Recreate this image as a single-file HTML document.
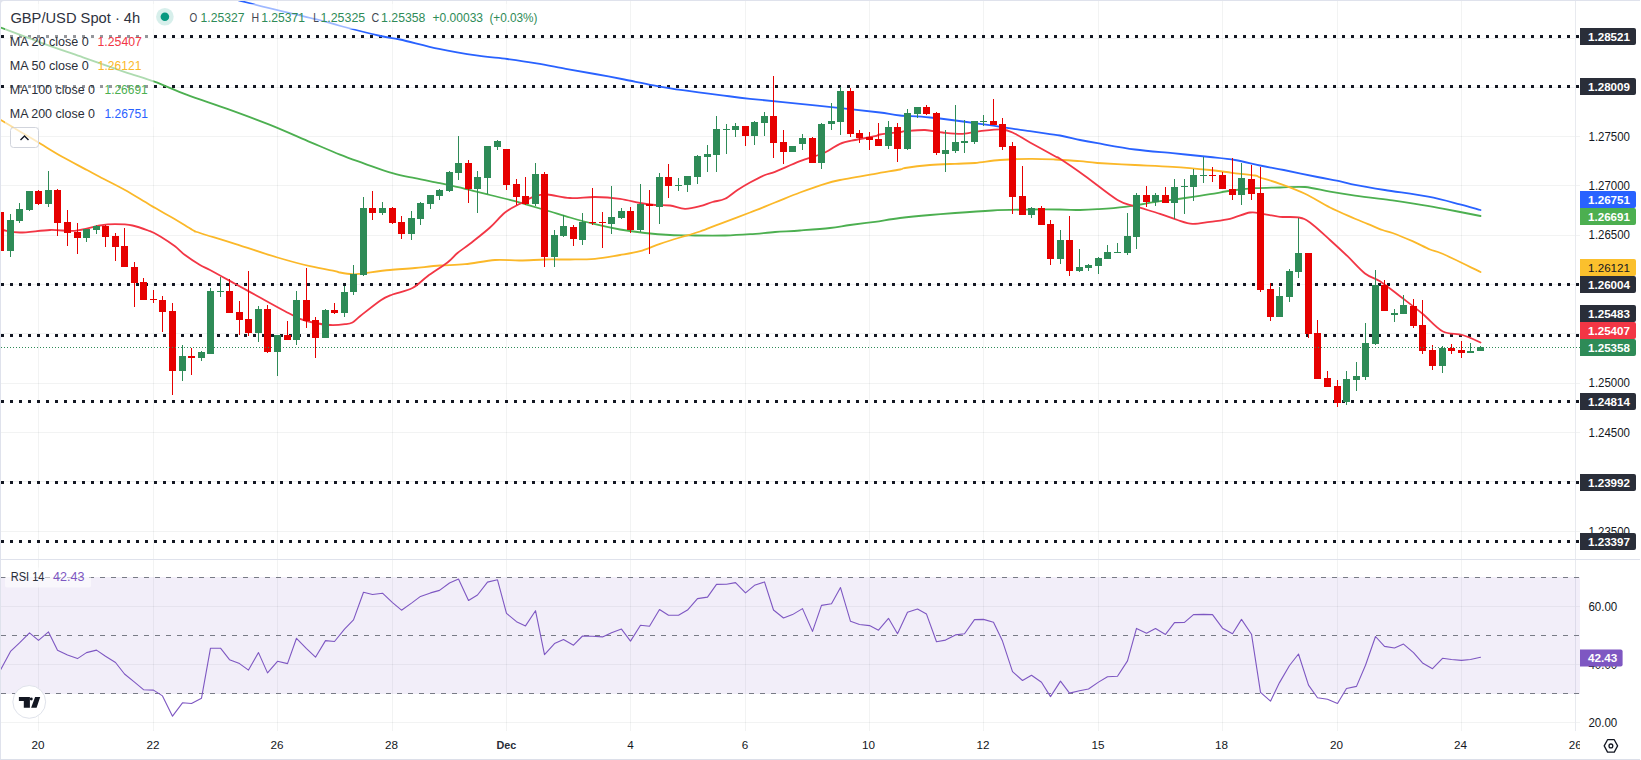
<!DOCTYPE html>
<html lang="en"><head><meta charset="utf-8"><title>GBP/USD Spot 4h chart</title>
<style>html,body{margin:0;padding:0;background:#fff;}body{width:1641px;height:760px;overflow:hidden;}svg{display:block;}text{font-family:'Liberation Sans', Arial, sans-serif;}</style>
</head><body>
<svg width="1641" height="760" viewBox="0 0 1641 760">
<rect x="0" y="0" width="1641" height="760" fill="#ffffff"/>
<g fill="#2a2e39" fill-opacity="0.06" shape-rendering="crispEdges">
<rect x="38" y="1" width="1" height="730"/>
<rect x="153" y="1" width="1" height="730"/>
<rect x="277" y="1" width="1" height="730"/>
<rect x="392" y="1" width="1" height="730"/>
<rect x="506" y="1" width="1" height="730"/>
<rect x="630" y="1" width="1" height="730"/>
<rect x="745" y="1" width="1" height="730"/>
<rect x="869" y="1" width="1" height="730"/>
<rect x="983" y="1" width="1" height="730"/>
<rect x="1098" y="1" width="1" height="730"/>
<rect x="1222" y="1" width="1" height="730"/>
<rect x="1337" y="1" width="1" height="730"/>
<rect x="1461" y="1" width="1" height="730"/>
<rect x="1" y="38" width="1579" height="1"/>
<rect x="1" y="87" width="1579" height="1"/>
<rect x="1" y="136" width="1579" height="1"/>
<rect x="1" y="185" width="1579" height="1"/>
<rect x="1" y="235" width="1579" height="1"/>
<rect x="1" y="284" width="1579" height="1"/>
<rect x="1" y="333" width="1579" height="1"/>
<rect x="1" y="383" width="1579" height="1"/>
<rect x="1" y="432" width="1579" height="1"/>
<rect x="1" y="481" width="1579" height="1"/>
<rect x="1" y="531" width="1579" height="1"/>
<rect x="1" y="606" width="1579" height="1"/>
<rect x="1" y="664" width="1579" height="1"/>
<rect x="1" y="722" width="1579" height="1"/>
</g>
<g fill="#dfe2ec" shape-rendering="crispEdges">
<rect x="1575" y="1" width="1" height="730" fill="#e8eaef"/>
<rect x="0" y="559" width="1640" height="1"/>
</g>
<rect x="1" y="577" width="1579" height="117" fill="#7e57c2" fill-opacity="0.1" shape-rendering="crispEdges"/>
<g fill="#131722" shape-rendering="crispEdges">
<path d="M1 35h3v3h-3zM10 35h3v3h-3zM19 35h3v3h-3zM28 35h3v3h-3zM37 35h3v3h-3zM46 35h3v3h-3zM55 35h3v3h-3zM64 35h3v3h-3zM73 35h3v3h-3zM82 35h3v3h-3zM91 35h3v3h-3zM100 35h3v3h-3zM109 35h3v3h-3zM118 35h3v3h-3zM127 35h3v3h-3zM136 35h3v3h-3zM145 35h3v3h-3zM154 35h3v3h-3zM163 35h3v3h-3zM172 35h3v3h-3zM181 35h3v3h-3zM190 35h3v3h-3zM199 35h3v3h-3zM208 35h3v3h-3zM217 35h3v3h-3zM226 35h3v3h-3zM235 35h3v3h-3zM244 35h3v3h-3zM253 35h3v3h-3zM262 35h3v3h-3zM271 35h3v3h-3zM280 35h3v3h-3zM289 35h3v3h-3zM298 35h3v3h-3zM307 35h3v3h-3zM316 35h3v3h-3zM325 35h3v3h-3zM334 35h3v3h-3zM343 35h3v3h-3zM352 35h3v3h-3zM361 35h3v3h-3zM370 35h3v3h-3zM379 35h3v3h-3zM388 35h3v3h-3zM397 35h3v3h-3zM406 35h3v3h-3zM415 35h3v3h-3zM424 35h3v3h-3zM433 35h3v3h-3zM442 35h3v3h-3zM451 35h3v3h-3zM460 35h3v3h-3zM469 35h3v3h-3zM478 35h3v3h-3zM487 35h3v3h-3zM496 35h3v3h-3zM505 35h3v3h-3zM514 35h3v3h-3zM523 35h3v3h-3zM532 35h3v3h-3zM541 35h3v3h-3zM550 35h3v3h-3zM559 35h3v3h-3zM568 35h3v3h-3zM577 35h3v3h-3zM586 35h3v3h-3zM595 35h3v3h-3zM604 35h3v3h-3zM613 35h3v3h-3zM622 35h3v3h-3zM631 35h3v3h-3zM640 35h3v3h-3zM649 35h3v3h-3zM658 35h3v3h-3zM667 35h3v3h-3zM676 35h3v3h-3zM685 35h3v3h-3zM694 35h3v3h-3zM703 35h3v3h-3zM712 35h3v3h-3zM721 35h3v3h-3zM730 35h3v3h-3zM739 35h3v3h-3zM748 35h3v3h-3zM757 35h3v3h-3zM766 35h3v3h-3zM775 35h3v3h-3zM784 35h3v3h-3zM793 35h3v3h-3zM802 35h3v3h-3zM811 35h3v3h-3zM820 35h3v3h-3zM829 35h3v3h-3zM838 35h3v3h-3zM847 35h3v3h-3zM856 35h3v3h-3zM865 35h3v3h-3zM874 35h3v3h-3zM883 35h3v3h-3zM892 35h3v3h-3zM901 35h3v3h-3zM910 35h3v3h-3zM919 35h3v3h-3zM928 35h3v3h-3zM937 35h3v3h-3zM946 35h3v3h-3zM955 35h3v3h-3zM964 35h3v3h-3zM973 35h3v3h-3zM982 35h3v3h-3zM991 35h3v3h-3zM1000 35h3v3h-3zM1009 35h3v3h-3zM1018 35h3v3h-3zM1027 35h3v3h-3zM1036 35h3v3h-3zM1045 35h3v3h-3zM1054 35h3v3h-3zM1063 35h3v3h-3zM1072 35h3v3h-3zM1081 35h3v3h-3zM1090 35h3v3h-3zM1099 35h3v3h-3zM1108 35h3v3h-3zM1117 35h3v3h-3zM1126 35h3v3h-3zM1135 35h3v3h-3zM1144 35h3v3h-3zM1153 35h3v3h-3zM1162 35h3v3h-3zM1171 35h3v3h-3zM1180 35h3v3h-3zM1189 35h3v3h-3zM1198 35h3v3h-3zM1207 35h3v3h-3zM1216 35h3v3h-3zM1225 35h3v3h-3zM1234 35h3v3h-3zM1243 35h3v3h-3zM1252 35h3v3h-3zM1261 35h3v3h-3zM1270 35h3v3h-3zM1279 35h3v3h-3zM1288 35h3v3h-3zM1297 35h3v3h-3zM1306 35h3v3h-3zM1315 35h3v3h-3zM1324 35h3v3h-3zM1333 35h3v3h-3zM1342 35h3v3h-3zM1351 35h3v3h-3zM1360 35h3v3h-3zM1369 35h3v3h-3zM1378 35h3v3h-3zM1387 35h3v3h-3zM1396 35h3v3h-3zM1405 35h3v3h-3zM1414 35h3v3h-3zM1423 35h3v3h-3zM1432 35h3v3h-3zM1441 35h3v3h-3zM1450 35h3v3h-3zM1459 35h3v3h-3zM1468 35h3v3h-3zM1477 35h3v3h-3zM1486 35h3v3h-3zM1495 35h3v3h-3zM1504 35h3v3h-3zM1513 35h3v3h-3zM1522 35h3v3h-3zM1531 35h3v3h-3zM1540 35h3v3h-3zM1549 35h3v3h-3zM1558 35h3v3h-3zM1567 35h3v3h-3zM1576 35h3v3h-3z"/>
<path d="M1 85h3v3h-3zM10 85h3v3h-3zM19 85h3v3h-3zM28 85h3v3h-3zM37 85h3v3h-3zM46 85h3v3h-3zM55 85h3v3h-3zM64 85h3v3h-3zM73 85h3v3h-3zM82 85h3v3h-3zM91 85h3v3h-3zM100 85h3v3h-3zM109 85h3v3h-3zM118 85h3v3h-3zM127 85h3v3h-3zM136 85h3v3h-3zM145 85h3v3h-3zM154 85h3v3h-3zM163 85h3v3h-3zM172 85h3v3h-3zM181 85h3v3h-3zM190 85h3v3h-3zM199 85h3v3h-3zM208 85h3v3h-3zM217 85h3v3h-3zM226 85h3v3h-3zM235 85h3v3h-3zM244 85h3v3h-3zM253 85h3v3h-3zM262 85h3v3h-3zM271 85h3v3h-3zM280 85h3v3h-3zM289 85h3v3h-3zM298 85h3v3h-3zM307 85h3v3h-3zM316 85h3v3h-3zM325 85h3v3h-3zM334 85h3v3h-3zM343 85h3v3h-3zM352 85h3v3h-3zM361 85h3v3h-3zM370 85h3v3h-3zM379 85h3v3h-3zM388 85h3v3h-3zM397 85h3v3h-3zM406 85h3v3h-3zM415 85h3v3h-3zM424 85h3v3h-3zM433 85h3v3h-3zM442 85h3v3h-3zM451 85h3v3h-3zM460 85h3v3h-3zM469 85h3v3h-3zM478 85h3v3h-3zM487 85h3v3h-3zM496 85h3v3h-3zM505 85h3v3h-3zM514 85h3v3h-3zM523 85h3v3h-3zM532 85h3v3h-3zM541 85h3v3h-3zM550 85h3v3h-3zM559 85h3v3h-3zM568 85h3v3h-3zM577 85h3v3h-3zM586 85h3v3h-3zM595 85h3v3h-3zM604 85h3v3h-3zM613 85h3v3h-3zM622 85h3v3h-3zM631 85h3v3h-3zM640 85h3v3h-3zM649 85h3v3h-3zM658 85h3v3h-3zM667 85h3v3h-3zM676 85h3v3h-3zM685 85h3v3h-3zM694 85h3v3h-3zM703 85h3v3h-3zM712 85h3v3h-3zM721 85h3v3h-3zM730 85h3v3h-3zM739 85h3v3h-3zM748 85h3v3h-3zM757 85h3v3h-3zM766 85h3v3h-3zM775 85h3v3h-3zM784 85h3v3h-3zM793 85h3v3h-3zM802 85h3v3h-3zM811 85h3v3h-3zM820 85h3v3h-3zM829 85h3v3h-3zM838 85h3v3h-3zM847 85h3v3h-3zM856 85h3v3h-3zM865 85h3v3h-3zM874 85h3v3h-3zM883 85h3v3h-3zM892 85h3v3h-3zM901 85h3v3h-3zM910 85h3v3h-3zM919 85h3v3h-3zM928 85h3v3h-3zM937 85h3v3h-3zM946 85h3v3h-3zM955 85h3v3h-3zM964 85h3v3h-3zM973 85h3v3h-3zM982 85h3v3h-3zM991 85h3v3h-3zM1000 85h3v3h-3zM1009 85h3v3h-3zM1018 85h3v3h-3zM1027 85h3v3h-3zM1036 85h3v3h-3zM1045 85h3v3h-3zM1054 85h3v3h-3zM1063 85h3v3h-3zM1072 85h3v3h-3zM1081 85h3v3h-3zM1090 85h3v3h-3zM1099 85h3v3h-3zM1108 85h3v3h-3zM1117 85h3v3h-3zM1126 85h3v3h-3zM1135 85h3v3h-3zM1144 85h3v3h-3zM1153 85h3v3h-3zM1162 85h3v3h-3zM1171 85h3v3h-3zM1180 85h3v3h-3zM1189 85h3v3h-3zM1198 85h3v3h-3zM1207 85h3v3h-3zM1216 85h3v3h-3zM1225 85h3v3h-3zM1234 85h3v3h-3zM1243 85h3v3h-3zM1252 85h3v3h-3zM1261 85h3v3h-3zM1270 85h3v3h-3zM1279 85h3v3h-3zM1288 85h3v3h-3zM1297 85h3v3h-3zM1306 85h3v3h-3zM1315 85h3v3h-3zM1324 85h3v3h-3zM1333 85h3v3h-3zM1342 85h3v3h-3zM1351 85h3v3h-3zM1360 85h3v3h-3zM1369 85h3v3h-3zM1378 85h3v3h-3zM1387 85h3v3h-3zM1396 85h3v3h-3zM1405 85h3v3h-3zM1414 85h3v3h-3zM1423 85h3v3h-3zM1432 85h3v3h-3zM1441 85h3v3h-3zM1450 85h3v3h-3zM1459 85h3v3h-3zM1468 85h3v3h-3zM1477 85h3v3h-3zM1486 85h3v3h-3zM1495 85h3v3h-3zM1504 85h3v3h-3zM1513 85h3v3h-3zM1522 85h3v3h-3zM1531 85h3v3h-3zM1540 85h3v3h-3zM1549 85h3v3h-3zM1558 85h3v3h-3zM1567 85h3v3h-3zM1576 85h3v3h-3z"/>
<path d="M1 283h3v3h-3zM10 283h3v3h-3zM19 283h3v3h-3zM28 283h3v3h-3zM37 283h3v3h-3zM46 283h3v3h-3zM55 283h3v3h-3zM64 283h3v3h-3zM73 283h3v3h-3zM82 283h3v3h-3zM91 283h3v3h-3zM100 283h3v3h-3zM109 283h3v3h-3zM118 283h3v3h-3zM127 283h3v3h-3zM136 283h3v3h-3zM145 283h3v3h-3zM154 283h3v3h-3zM163 283h3v3h-3zM172 283h3v3h-3zM181 283h3v3h-3zM190 283h3v3h-3zM199 283h3v3h-3zM208 283h3v3h-3zM217 283h3v3h-3zM226 283h3v3h-3zM235 283h3v3h-3zM244 283h3v3h-3zM253 283h3v3h-3zM262 283h3v3h-3zM271 283h3v3h-3zM280 283h3v3h-3zM289 283h3v3h-3zM298 283h3v3h-3zM307 283h3v3h-3zM316 283h3v3h-3zM325 283h3v3h-3zM334 283h3v3h-3zM343 283h3v3h-3zM352 283h3v3h-3zM361 283h3v3h-3zM370 283h3v3h-3zM379 283h3v3h-3zM388 283h3v3h-3zM397 283h3v3h-3zM406 283h3v3h-3zM415 283h3v3h-3zM424 283h3v3h-3zM433 283h3v3h-3zM442 283h3v3h-3zM451 283h3v3h-3zM460 283h3v3h-3zM469 283h3v3h-3zM478 283h3v3h-3zM487 283h3v3h-3zM496 283h3v3h-3zM505 283h3v3h-3zM514 283h3v3h-3zM523 283h3v3h-3zM532 283h3v3h-3zM541 283h3v3h-3zM550 283h3v3h-3zM559 283h3v3h-3zM568 283h3v3h-3zM577 283h3v3h-3zM586 283h3v3h-3zM595 283h3v3h-3zM604 283h3v3h-3zM613 283h3v3h-3zM622 283h3v3h-3zM631 283h3v3h-3zM640 283h3v3h-3zM649 283h3v3h-3zM658 283h3v3h-3zM667 283h3v3h-3zM676 283h3v3h-3zM685 283h3v3h-3zM694 283h3v3h-3zM703 283h3v3h-3zM712 283h3v3h-3zM721 283h3v3h-3zM730 283h3v3h-3zM739 283h3v3h-3zM748 283h3v3h-3zM757 283h3v3h-3zM766 283h3v3h-3zM775 283h3v3h-3zM784 283h3v3h-3zM793 283h3v3h-3zM802 283h3v3h-3zM811 283h3v3h-3zM820 283h3v3h-3zM829 283h3v3h-3zM838 283h3v3h-3zM847 283h3v3h-3zM856 283h3v3h-3zM865 283h3v3h-3zM874 283h3v3h-3zM883 283h3v3h-3zM892 283h3v3h-3zM901 283h3v3h-3zM910 283h3v3h-3zM919 283h3v3h-3zM928 283h3v3h-3zM937 283h3v3h-3zM946 283h3v3h-3zM955 283h3v3h-3zM964 283h3v3h-3zM973 283h3v3h-3zM982 283h3v3h-3zM991 283h3v3h-3zM1000 283h3v3h-3zM1009 283h3v3h-3zM1018 283h3v3h-3zM1027 283h3v3h-3zM1036 283h3v3h-3zM1045 283h3v3h-3zM1054 283h3v3h-3zM1063 283h3v3h-3zM1072 283h3v3h-3zM1081 283h3v3h-3zM1090 283h3v3h-3zM1099 283h3v3h-3zM1108 283h3v3h-3zM1117 283h3v3h-3zM1126 283h3v3h-3zM1135 283h3v3h-3zM1144 283h3v3h-3zM1153 283h3v3h-3zM1162 283h3v3h-3zM1171 283h3v3h-3zM1180 283h3v3h-3zM1189 283h3v3h-3zM1198 283h3v3h-3zM1207 283h3v3h-3zM1216 283h3v3h-3zM1225 283h3v3h-3zM1234 283h3v3h-3zM1243 283h3v3h-3zM1252 283h3v3h-3zM1261 283h3v3h-3zM1270 283h3v3h-3zM1279 283h3v3h-3zM1288 283h3v3h-3zM1297 283h3v3h-3zM1306 283h3v3h-3zM1315 283h3v3h-3zM1324 283h3v3h-3zM1333 283h3v3h-3zM1342 283h3v3h-3zM1351 283h3v3h-3zM1360 283h3v3h-3zM1369 283h3v3h-3zM1378 283h3v3h-3zM1387 283h3v3h-3zM1396 283h3v3h-3zM1405 283h3v3h-3zM1414 283h3v3h-3zM1423 283h3v3h-3zM1432 283h3v3h-3zM1441 283h3v3h-3zM1450 283h3v3h-3zM1459 283h3v3h-3zM1468 283h3v3h-3zM1477 283h3v3h-3zM1486 283h3v3h-3zM1495 283h3v3h-3zM1504 283h3v3h-3zM1513 283h3v3h-3zM1522 283h3v3h-3zM1531 283h3v3h-3zM1540 283h3v3h-3zM1549 283h3v3h-3zM1558 283h3v3h-3zM1567 283h3v3h-3zM1576 283h3v3h-3z"/>
<path d="M1 334h3v3h-3zM10 334h3v3h-3zM19 334h3v3h-3zM28 334h3v3h-3zM37 334h3v3h-3zM46 334h3v3h-3zM55 334h3v3h-3zM64 334h3v3h-3zM73 334h3v3h-3zM82 334h3v3h-3zM91 334h3v3h-3zM100 334h3v3h-3zM109 334h3v3h-3zM118 334h3v3h-3zM127 334h3v3h-3zM136 334h3v3h-3zM145 334h3v3h-3zM154 334h3v3h-3zM163 334h3v3h-3zM172 334h3v3h-3zM181 334h3v3h-3zM190 334h3v3h-3zM199 334h3v3h-3zM208 334h3v3h-3zM217 334h3v3h-3zM226 334h3v3h-3zM235 334h3v3h-3zM244 334h3v3h-3zM253 334h3v3h-3zM262 334h3v3h-3zM271 334h3v3h-3zM280 334h3v3h-3zM289 334h3v3h-3zM298 334h3v3h-3zM307 334h3v3h-3zM316 334h3v3h-3zM325 334h3v3h-3zM334 334h3v3h-3zM343 334h3v3h-3zM352 334h3v3h-3zM361 334h3v3h-3zM370 334h3v3h-3zM379 334h3v3h-3zM388 334h3v3h-3zM397 334h3v3h-3zM406 334h3v3h-3zM415 334h3v3h-3zM424 334h3v3h-3zM433 334h3v3h-3zM442 334h3v3h-3zM451 334h3v3h-3zM460 334h3v3h-3zM469 334h3v3h-3zM478 334h3v3h-3zM487 334h3v3h-3zM496 334h3v3h-3zM505 334h3v3h-3zM514 334h3v3h-3zM523 334h3v3h-3zM532 334h3v3h-3zM541 334h3v3h-3zM550 334h3v3h-3zM559 334h3v3h-3zM568 334h3v3h-3zM577 334h3v3h-3zM586 334h3v3h-3zM595 334h3v3h-3zM604 334h3v3h-3zM613 334h3v3h-3zM622 334h3v3h-3zM631 334h3v3h-3zM640 334h3v3h-3zM649 334h3v3h-3zM658 334h3v3h-3zM667 334h3v3h-3zM676 334h3v3h-3zM685 334h3v3h-3zM694 334h3v3h-3zM703 334h3v3h-3zM712 334h3v3h-3zM721 334h3v3h-3zM730 334h3v3h-3zM739 334h3v3h-3zM748 334h3v3h-3zM757 334h3v3h-3zM766 334h3v3h-3zM775 334h3v3h-3zM784 334h3v3h-3zM793 334h3v3h-3zM802 334h3v3h-3zM811 334h3v3h-3zM820 334h3v3h-3zM829 334h3v3h-3zM838 334h3v3h-3zM847 334h3v3h-3zM856 334h3v3h-3zM865 334h3v3h-3zM874 334h3v3h-3zM883 334h3v3h-3zM892 334h3v3h-3zM901 334h3v3h-3zM910 334h3v3h-3zM919 334h3v3h-3zM928 334h3v3h-3zM937 334h3v3h-3zM946 334h3v3h-3zM955 334h3v3h-3zM964 334h3v3h-3zM973 334h3v3h-3zM982 334h3v3h-3zM991 334h3v3h-3zM1000 334h3v3h-3zM1009 334h3v3h-3zM1018 334h3v3h-3zM1027 334h3v3h-3zM1036 334h3v3h-3zM1045 334h3v3h-3zM1054 334h3v3h-3zM1063 334h3v3h-3zM1072 334h3v3h-3zM1081 334h3v3h-3zM1090 334h3v3h-3zM1099 334h3v3h-3zM1108 334h3v3h-3zM1117 334h3v3h-3zM1126 334h3v3h-3zM1135 334h3v3h-3zM1144 334h3v3h-3zM1153 334h3v3h-3zM1162 334h3v3h-3zM1171 334h3v3h-3zM1180 334h3v3h-3zM1189 334h3v3h-3zM1198 334h3v3h-3zM1207 334h3v3h-3zM1216 334h3v3h-3zM1225 334h3v3h-3zM1234 334h3v3h-3zM1243 334h3v3h-3zM1252 334h3v3h-3zM1261 334h3v3h-3zM1270 334h3v3h-3zM1279 334h3v3h-3zM1288 334h3v3h-3zM1297 334h3v3h-3zM1306 334h3v3h-3zM1315 334h3v3h-3zM1324 334h3v3h-3zM1333 334h3v3h-3zM1342 334h3v3h-3zM1351 334h3v3h-3zM1360 334h3v3h-3zM1369 334h3v3h-3zM1378 334h3v3h-3zM1387 334h3v3h-3zM1396 334h3v3h-3zM1405 334h3v3h-3zM1414 334h3v3h-3zM1423 334h3v3h-3zM1432 334h3v3h-3zM1441 334h3v3h-3zM1450 334h3v3h-3zM1459 334h3v3h-3zM1468 334h3v3h-3zM1477 334h3v3h-3zM1486 334h3v3h-3zM1495 334h3v3h-3zM1504 334h3v3h-3zM1513 334h3v3h-3zM1522 334h3v3h-3zM1531 334h3v3h-3zM1540 334h3v3h-3zM1549 334h3v3h-3zM1558 334h3v3h-3zM1567 334h3v3h-3zM1576 334h3v3h-3z"/>
<path d="M1 400h3v3h-3zM10 400h3v3h-3zM19 400h3v3h-3zM28 400h3v3h-3zM37 400h3v3h-3zM46 400h3v3h-3zM55 400h3v3h-3zM64 400h3v3h-3zM73 400h3v3h-3zM82 400h3v3h-3zM91 400h3v3h-3zM100 400h3v3h-3zM109 400h3v3h-3zM118 400h3v3h-3zM127 400h3v3h-3zM136 400h3v3h-3zM145 400h3v3h-3zM154 400h3v3h-3zM163 400h3v3h-3zM172 400h3v3h-3zM181 400h3v3h-3zM190 400h3v3h-3zM199 400h3v3h-3zM208 400h3v3h-3zM217 400h3v3h-3zM226 400h3v3h-3zM235 400h3v3h-3zM244 400h3v3h-3zM253 400h3v3h-3zM262 400h3v3h-3zM271 400h3v3h-3zM280 400h3v3h-3zM289 400h3v3h-3zM298 400h3v3h-3zM307 400h3v3h-3zM316 400h3v3h-3zM325 400h3v3h-3zM334 400h3v3h-3zM343 400h3v3h-3zM352 400h3v3h-3zM361 400h3v3h-3zM370 400h3v3h-3zM379 400h3v3h-3zM388 400h3v3h-3zM397 400h3v3h-3zM406 400h3v3h-3zM415 400h3v3h-3zM424 400h3v3h-3zM433 400h3v3h-3zM442 400h3v3h-3zM451 400h3v3h-3zM460 400h3v3h-3zM469 400h3v3h-3zM478 400h3v3h-3zM487 400h3v3h-3zM496 400h3v3h-3zM505 400h3v3h-3zM514 400h3v3h-3zM523 400h3v3h-3zM532 400h3v3h-3zM541 400h3v3h-3zM550 400h3v3h-3zM559 400h3v3h-3zM568 400h3v3h-3zM577 400h3v3h-3zM586 400h3v3h-3zM595 400h3v3h-3zM604 400h3v3h-3zM613 400h3v3h-3zM622 400h3v3h-3zM631 400h3v3h-3zM640 400h3v3h-3zM649 400h3v3h-3zM658 400h3v3h-3zM667 400h3v3h-3zM676 400h3v3h-3zM685 400h3v3h-3zM694 400h3v3h-3zM703 400h3v3h-3zM712 400h3v3h-3zM721 400h3v3h-3zM730 400h3v3h-3zM739 400h3v3h-3zM748 400h3v3h-3zM757 400h3v3h-3zM766 400h3v3h-3zM775 400h3v3h-3zM784 400h3v3h-3zM793 400h3v3h-3zM802 400h3v3h-3zM811 400h3v3h-3zM820 400h3v3h-3zM829 400h3v3h-3zM838 400h3v3h-3zM847 400h3v3h-3zM856 400h3v3h-3zM865 400h3v3h-3zM874 400h3v3h-3zM883 400h3v3h-3zM892 400h3v3h-3zM901 400h3v3h-3zM910 400h3v3h-3zM919 400h3v3h-3zM928 400h3v3h-3zM937 400h3v3h-3zM946 400h3v3h-3zM955 400h3v3h-3zM964 400h3v3h-3zM973 400h3v3h-3zM982 400h3v3h-3zM991 400h3v3h-3zM1000 400h3v3h-3zM1009 400h3v3h-3zM1018 400h3v3h-3zM1027 400h3v3h-3zM1036 400h3v3h-3zM1045 400h3v3h-3zM1054 400h3v3h-3zM1063 400h3v3h-3zM1072 400h3v3h-3zM1081 400h3v3h-3zM1090 400h3v3h-3zM1099 400h3v3h-3zM1108 400h3v3h-3zM1117 400h3v3h-3zM1126 400h3v3h-3zM1135 400h3v3h-3zM1144 400h3v3h-3zM1153 400h3v3h-3zM1162 400h3v3h-3zM1171 400h3v3h-3zM1180 400h3v3h-3zM1189 400h3v3h-3zM1198 400h3v3h-3zM1207 400h3v3h-3zM1216 400h3v3h-3zM1225 400h3v3h-3zM1234 400h3v3h-3zM1243 400h3v3h-3zM1252 400h3v3h-3zM1261 400h3v3h-3zM1270 400h3v3h-3zM1279 400h3v3h-3zM1288 400h3v3h-3zM1297 400h3v3h-3zM1306 400h3v3h-3zM1315 400h3v3h-3zM1324 400h3v3h-3zM1333 400h3v3h-3zM1342 400h3v3h-3zM1351 400h3v3h-3zM1360 400h3v3h-3zM1369 400h3v3h-3zM1378 400h3v3h-3zM1387 400h3v3h-3zM1396 400h3v3h-3zM1405 400h3v3h-3zM1414 400h3v3h-3zM1423 400h3v3h-3zM1432 400h3v3h-3zM1441 400h3v3h-3zM1450 400h3v3h-3zM1459 400h3v3h-3zM1468 400h3v3h-3zM1477 400h3v3h-3zM1486 400h3v3h-3zM1495 400h3v3h-3zM1504 400h3v3h-3zM1513 400h3v3h-3zM1522 400h3v3h-3zM1531 400h3v3h-3zM1540 400h3v3h-3zM1549 400h3v3h-3zM1558 400h3v3h-3zM1567 400h3v3h-3zM1576 400h3v3h-3z"/>
<path d="M1 481h3v3h-3zM10 481h3v3h-3zM19 481h3v3h-3zM28 481h3v3h-3zM37 481h3v3h-3zM46 481h3v3h-3zM55 481h3v3h-3zM64 481h3v3h-3zM73 481h3v3h-3zM82 481h3v3h-3zM91 481h3v3h-3zM100 481h3v3h-3zM109 481h3v3h-3zM118 481h3v3h-3zM127 481h3v3h-3zM136 481h3v3h-3zM145 481h3v3h-3zM154 481h3v3h-3zM163 481h3v3h-3zM172 481h3v3h-3zM181 481h3v3h-3zM190 481h3v3h-3zM199 481h3v3h-3zM208 481h3v3h-3zM217 481h3v3h-3zM226 481h3v3h-3zM235 481h3v3h-3zM244 481h3v3h-3zM253 481h3v3h-3zM262 481h3v3h-3zM271 481h3v3h-3zM280 481h3v3h-3zM289 481h3v3h-3zM298 481h3v3h-3zM307 481h3v3h-3zM316 481h3v3h-3zM325 481h3v3h-3zM334 481h3v3h-3zM343 481h3v3h-3zM352 481h3v3h-3zM361 481h3v3h-3zM370 481h3v3h-3zM379 481h3v3h-3zM388 481h3v3h-3zM397 481h3v3h-3zM406 481h3v3h-3zM415 481h3v3h-3zM424 481h3v3h-3zM433 481h3v3h-3zM442 481h3v3h-3zM451 481h3v3h-3zM460 481h3v3h-3zM469 481h3v3h-3zM478 481h3v3h-3zM487 481h3v3h-3zM496 481h3v3h-3zM505 481h3v3h-3zM514 481h3v3h-3zM523 481h3v3h-3zM532 481h3v3h-3zM541 481h3v3h-3zM550 481h3v3h-3zM559 481h3v3h-3zM568 481h3v3h-3zM577 481h3v3h-3zM586 481h3v3h-3zM595 481h3v3h-3zM604 481h3v3h-3zM613 481h3v3h-3zM622 481h3v3h-3zM631 481h3v3h-3zM640 481h3v3h-3zM649 481h3v3h-3zM658 481h3v3h-3zM667 481h3v3h-3zM676 481h3v3h-3zM685 481h3v3h-3zM694 481h3v3h-3zM703 481h3v3h-3zM712 481h3v3h-3zM721 481h3v3h-3zM730 481h3v3h-3zM739 481h3v3h-3zM748 481h3v3h-3zM757 481h3v3h-3zM766 481h3v3h-3zM775 481h3v3h-3zM784 481h3v3h-3zM793 481h3v3h-3zM802 481h3v3h-3zM811 481h3v3h-3zM820 481h3v3h-3zM829 481h3v3h-3zM838 481h3v3h-3zM847 481h3v3h-3zM856 481h3v3h-3zM865 481h3v3h-3zM874 481h3v3h-3zM883 481h3v3h-3zM892 481h3v3h-3zM901 481h3v3h-3zM910 481h3v3h-3zM919 481h3v3h-3zM928 481h3v3h-3zM937 481h3v3h-3zM946 481h3v3h-3zM955 481h3v3h-3zM964 481h3v3h-3zM973 481h3v3h-3zM982 481h3v3h-3zM991 481h3v3h-3zM1000 481h3v3h-3zM1009 481h3v3h-3zM1018 481h3v3h-3zM1027 481h3v3h-3zM1036 481h3v3h-3zM1045 481h3v3h-3zM1054 481h3v3h-3zM1063 481h3v3h-3zM1072 481h3v3h-3zM1081 481h3v3h-3zM1090 481h3v3h-3zM1099 481h3v3h-3zM1108 481h3v3h-3zM1117 481h3v3h-3zM1126 481h3v3h-3zM1135 481h3v3h-3zM1144 481h3v3h-3zM1153 481h3v3h-3zM1162 481h3v3h-3zM1171 481h3v3h-3zM1180 481h3v3h-3zM1189 481h3v3h-3zM1198 481h3v3h-3zM1207 481h3v3h-3zM1216 481h3v3h-3zM1225 481h3v3h-3zM1234 481h3v3h-3zM1243 481h3v3h-3zM1252 481h3v3h-3zM1261 481h3v3h-3zM1270 481h3v3h-3zM1279 481h3v3h-3zM1288 481h3v3h-3zM1297 481h3v3h-3zM1306 481h3v3h-3zM1315 481h3v3h-3zM1324 481h3v3h-3zM1333 481h3v3h-3zM1342 481h3v3h-3zM1351 481h3v3h-3zM1360 481h3v3h-3zM1369 481h3v3h-3zM1378 481h3v3h-3zM1387 481h3v3h-3zM1396 481h3v3h-3zM1405 481h3v3h-3zM1414 481h3v3h-3zM1423 481h3v3h-3zM1432 481h3v3h-3zM1441 481h3v3h-3zM1450 481h3v3h-3zM1459 481h3v3h-3zM1468 481h3v3h-3zM1477 481h3v3h-3zM1486 481h3v3h-3zM1495 481h3v3h-3zM1504 481h3v3h-3zM1513 481h3v3h-3zM1522 481h3v3h-3zM1531 481h3v3h-3zM1540 481h3v3h-3zM1549 481h3v3h-3zM1558 481h3v3h-3zM1567 481h3v3h-3zM1576 481h3v3h-3z"/>
<path d="M1 540h3v3h-3zM10 540h3v3h-3zM19 540h3v3h-3zM28 540h3v3h-3zM37 540h3v3h-3zM46 540h3v3h-3zM55 540h3v3h-3zM64 540h3v3h-3zM73 540h3v3h-3zM82 540h3v3h-3zM91 540h3v3h-3zM100 540h3v3h-3zM109 540h3v3h-3zM118 540h3v3h-3zM127 540h3v3h-3zM136 540h3v3h-3zM145 540h3v3h-3zM154 540h3v3h-3zM163 540h3v3h-3zM172 540h3v3h-3zM181 540h3v3h-3zM190 540h3v3h-3zM199 540h3v3h-3zM208 540h3v3h-3zM217 540h3v3h-3zM226 540h3v3h-3zM235 540h3v3h-3zM244 540h3v3h-3zM253 540h3v3h-3zM262 540h3v3h-3zM271 540h3v3h-3zM280 540h3v3h-3zM289 540h3v3h-3zM298 540h3v3h-3zM307 540h3v3h-3zM316 540h3v3h-3zM325 540h3v3h-3zM334 540h3v3h-3zM343 540h3v3h-3zM352 540h3v3h-3zM361 540h3v3h-3zM370 540h3v3h-3zM379 540h3v3h-3zM388 540h3v3h-3zM397 540h3v3h-3zM406 540h3v3h-3zM415 540h3v3h-3zM424 540h3v3h-3zM433 540h3v3h-3zM442 540h3v3h-3zM451 540h3v3h-3zM460 540h3v3h-3zM469 540h3v3h-3zM478 540h3v3h-3zM487 540h3v3h-3zM496 540h3v3h-3zM505 540h3v3h-3zM514 540h3v3h-3zM523 540h3v3h-3zM532 540h3v3h-3zM541 540h3v3h-3zM550 540h3v3h-3zM559 540h3v3h-3zM568 540h3v3h-3zM577 540h3v3h-3zM586 540h3v3h-3zM595 540h3v3h-3zM604 540h3v3h-3zM613 540h3v3h-3zM622 540h3v3h-3zM631 540h3v3h-3zM640 540h3v3h-3zM649 540h3v3h-3zM658 540h3v3h-3zM667 540h3v3h-3zM676 540h3v3h-3zM685 540h3v3h-3zM694 540h3v3h-3zM703 540h3v3h-3zM712 540h3v3h-3zM721 540h3v3h-3zM730 540h3v3h-3zM739 540h3v3h-3zM748 540h3v3h-3zM757 540h3v3h-3zM766 540h3v3h-3zM775 540h3v3h-3zM784 540h3v3h-3zM793 540h3v3h-3zM802 540h3v3h-3zM811 540h3v3h-3zM820 540h3v3h-3zM829 540h3v3h-3zM838 540h3v3h-3zM847 540h3v3h-3zM856 540h3v3h-3zM865 540h3v3h-3zM874 540h3v3h-3zM883 540h3v3h-3zM892 540h3v3h-3zM901 540h3v3h-3zM910 540h3v3h-3zM919 540h3v3h-3zM928 540h3v3h-3zM937 540h3v3h-3zM946 540h3v3h-3zM955 540h3v3h-3zM964 540h3v3h-3zM973 540h3v3h-3zM982 540h3v3h-3zM991 540h3v3h-3zM1000 540h3v3h-3zM1009 540h3v3h-3zM1018 540h3v3h-3zM1027 540h3v3h-3zM1036 540h3v3h-3zM1045 540h3v3h-3zM1054 540h3v3h-3zM1063 540h3v3h-3zM1072 540h3v3h-3zM1081 540h3v3h-3zM1090 540h3v3h-3zM1099 540h3v3h-3zM1108 540h3v3h-3zM1117 540h3v3h-3zM1126 540h3v3h-3zM1135 540h3v3h-3zM1144 540h3v3h-3zM1153 540h3v3h-3zM1162 540h3v3h-3zM1171 540h3v3h-3zM1180 540h3v3h-3zM1189 540h3v3h-3zM1198 540h3v3h-3zM1207 540h3v3h-3zM1216 540h3v3h-3zM1225 540h3v3h-3zM1234 540h3v3h-3zM1243 540h3v3h-3zM1252 540h3v3h-3zM1261 540h3v3h-3zM1270 540h3v3h-3zM1279 540h3v3h-3zM1288 540h3v3h-3zM1297 540h3v3h-3zM1306 540h3v3h-3zM1315 540h3v3h-3zM1324 540h3v3h-3zM1333 540h3v3h-3zM1342 540h3v3h-3zM1351 540h3v3h-3zM1360 540h3v3h-3zM1369 540h3v3h-3zM1378 540h3v3h-3zM1387 540h3v3h-3zM1396 540h3v3h-3zM1405 540h3v3h-3zM1414 540h3v3h-3zM1423 540h3v3h-3zM1432 540h3v3h-3zM1441 540h3v3h-3zM1450 540h3v3h-3zM1459 540h3v3h-3zM1468 540h3v3h-3zM1477 540h3v3h-3zM1486 540h3v3h-3zM1495 540h3v3h-3zM1504 540h3v3h-3zM1513 540h3v3h-3zM1522 540h3v3h-3zM1531 540h3v3h-3zM1540 540h3v3h-3zM1549 540h3v3h-3zM1558 540h3v3h-3zM1567 540h3v3h-3zM1576 540h3v3h-3z"/>
</g>
<path d="M228.0 -4.0 C229.5 -3.3 226.3 -2.9 237.0 0.0 C247.7 2.9 278.3 10.3 292.0 13.6 C305.7 16.9 311.1 17.9 319.2 20.0 C327.3 22.1 330.4 23.3 340.6 26.0 C350.8 28.7 370.7 33.8 380.6 36.0 C390.5 38.2 390.3 37.4 400.0 39.5 C409.7 41.6 426.0 46.2 439.0 48.9 C452.0 51.6 466.6 54.0 478.0 55.7 C489.4 57.4 497.6 57.7 507.3 59.0 C517.0 60.3 526.8 61.7 536.5 63.3 C546.2 64.9 556.0 67.0 565.8 68.8 C575.5 70.5 585.2 72.2 595.0 74.0 C604.8 75.8 614.5 77.6 624.3 79.5 C634.0 81.4 643.8 83.5 653.5 85.3 C663.2 87.1 671.7 88.6 682.8 90.2 C693.9 91.8 708.8 93.7 720.0 95.1 C731.2 96.5 736.7 97.3 750.0 98.8 C763.3 100.2 783.3 102.0 800.0 103.8 C816.7 105.5 836.7 107.8 850.0 109.2 C863.3 110.7 871.7 111.5 880.0 112.5 C888.3 113.5 891.7 114.7 900.0 115.5 C908.3 116.3 916.7 116.1 930.0 117.5 C943.3 118.9 963.3 121.5 980.0 123.8 C996.7 126.0 1016.7 129.3 1030.0 131.2 C1043.3 133.2 1051.7 134.0 1060.0 135.5 C1068.3 137.0 1073.8 138.7 1080.0 140.0 C1086.2 141.3 1088.3 141.7 1097.5 143.2 C1106.7 144.8 1122.5 147.8 1135.0 149.5 C1147.5 151.2 1160.0 152.0 1172.5 153.2 C1185.0 154.5 1199.6 155.9 1210.0 157.0 C1220.4 158.1 1226.7 158.6 1235.0 160.0 C1243.3 161.4 1251.9 163.8 1260.0 165.5 C1268.1 167.2 1274.2 168.1 1283.8 170.0 C1293.3 171.9 1307.9 175.1 1317.5 177.0 C1327.1 178.9 1335.0 180.3 1341.3 181.6 C1347.5 182.9 1347.8 183.4 1355.0 184.8 C1362.2 186.2 1372.6 188.0 1384.8 190.0 C1397.0 192.0 1415.7 194.3 1428.2 196.7 C1440.7 199.1 1451.3 202.1 1460.0 204.3 C1468.7 206.5 1477.1 209.1 1480.5 210.0" fill="none" stroke="#2962ff" stroke-width="1.8" stroke-linejoin="round" stroke-linecap="round"/>
<path d="M0.0 27.3 C6.9 29.9 27.6 37.8 41.4 42.8 C55.2 47.8 69.1 52.5 82.9 57.3 C96.7 62.1 112.4 67.7 124.3 71.8 C136.2 75.9 144.0 77.9 154.4 81.7 C164.8 85.5 174.2 90.0 186.5 94.6 C198.8 99.2 214.2 104.1 228.0 109.1 C241.8 114.1 255.6 119.1 269.4 124.6 C283.2 130.1 299.0 137.3 310.8 142.3 C322.6 147.3 331.0 151.0 340.0 154.6 C349.0 158.2 356.2 160.6 365.0 163.8 C373.8 166.9 384.2 170.8 392.5 173.2 C400.8 175.7 407.1 176.6 415.0 178.2 C422.9 179.9 431.7 181.5 440.0 183.2 C448.3 185.0 456.7 186.8 465.0 188.8 C473.3 190.7 481.7 192.9 490.0 195.0 C498.3 197.1 505.8 198.8 515.0 201.2 C524.2 203.8 535.8 207.3 545.0 210.0 C554.2 212.7 561.7 215.1 570.0 217.5 C578.3 219.9 586.7 222.2 595.0 224.2 C603.3 226.2 611.7 228.0 620.0 229.5 C628.3 231.0 636.7 232.1 645.0 233.0 C653.3 233.9 661.7 234.6 670.0 235.0 C678.3 235.4 685.8 235.4 695.0 235.5 C704.2 235.6 715.8 235.7 725.0 235.5 C734.2 235.3 741.7 234.8 750.0 234.2 C758.3 233.7 766.7 232.6 775.0 232.0 C783.3 231.4 790.8 231.2 800.0 230.5 C809.2 229.8 821.7 228.9 830.0 228.0 C838.3 227.1 842.5 226.0 850.0 225.0 C857.5 224.0 866.7 222.9 875.0 221.8 C883.3 220.6 890.8 219.1 900.0 218.0 C909.2 216.9 920.8 215.8 930.0 215.0 C939.2 214.2 944.6 213.8 955.0 213.0 C965.4 212.2 980.0 211.1 992.5 210.5 C1005.0 209.9 1018.8 209.7 1030.0 209.5 C1041.2 209.3 1051.7 209.4 1060.0 209.5 C1068.3 209.6 1073.8 210.0 1080.0 210.0 C1086.2 210.0 1090.0 209.8 1097.5 209.2 C1105.0 208.7 1114.6 208.1 1125.0 206.8 C1135.4 205.4 1150.0 202.7 1160.0 201.2 C1170.0 199.8 1176.7 199.2 1185.0 198.0 C1193.3 196.8 1202.2 195.5 1210.0 194.2 C1217.8 193.0 1224.5 191.5 1232.0 190.5 C1239.5 189.5 1247.0 188.8 1255.0 188.2 C1263.0 187.8 1271.7 187.7 1280.0 187.5 C1288.3 187.3 1296.7 186.3 1305.0 187.0 C1313.3 187.7 1321.7 190.3 1330.0 191.7 C1338.3 193.1 1344.6 194.1 1355.0 195.6 C1365.4 197.1 1382.7 199.1 1392.5 200.4 C1402.3 201.8 1405.3 202.3 1413.7 203.7 C1422.1 205.1 1431.6 206.5 1442.7 208.6 C1453.8 210.7 1474.2 214.8 1480.5 216.0" fill="none" stroke="#4caf50" stroke-width="1.8" stroke-linejoin="round" stroke-linecap="round"/>
<path d="M0.0 119.5 C3.4 121.6 13.8 127.8 20.7 131.9 C27.6 136.0 34.5 140.2 41.4 144.3 C48.3 148.5 54.6 152.5 62.2 156.8 C69.8 161.1 80.7 166.6 87.0 170.0 C93.3 173.4 93.7 173.7 100.0 177.0 C106.3 180.3 116.7 185.3 125.0 190.0 C133.3 194.7 141.7 200.1 150.0 205.0 C158.3 209.9 167.9 215.1 175.0 219.2 C182.1 223.4 188.3 227.7 192.5 230.0 C196.7 232.3 192.9 230.7 200.0 233.0 C207.1 235.3 222.1 239.7 235.0 243.8 C247.9 247.8 265.0 253.8 277.5 257.5 C290.0 261.2 300.4 264.0 310.0 266.2 C319.6 268.5 330.0 270.2 335.0 271.2 C340.0 272.3 337.1 272.0 340.0 272.5 C342.9 273.0 349.2 274.0 352.5 274.2 C355.8 274.5 357.9 274.0 360.0 273.8 C362.1 273.5 360.0 273.6 365.0 273.0 C370.0 272.4 381.7 270.8 390.0 270.0 C398.3 269.2 406.7 268.8 415.0 268.0 C423.3 267.2 431.7 266.1 440.0 265.5 C448.3 264.9 455.8 265.2 465.0 264.2 C474.2 263.3 485.8 260.6 495.0 260.0 C504.2 259.4 511.7 260.6 520.0 260.5 C528.3 260.4 536.7 259.7 545.0 259.5 C553.3 259.3 561.7 259.6 570.0 259.5 C578.3 259.4 586.7 259.5 595.0 258.8 C603.3 258.0 612.5 256.2 620.0 255.0 C627.5 253.8 633.3 253.1 640.0 251.2 C646.7 249.4 653.3 246.0 660.0 243.8 C666.7 241.5 673.3 239.5 680.0 237.5 C686.7 235.5 693.3 233.8 700.0 231.5 C706.7 229.2 711.7 226.9 720.0 223.8 C728.3 220.6 740.8 216.0 750.0 212.5 C759.2 209.0 766.7 205.8 775.0 202.5 C783.3 199.2 791.7 195.6 800.0 192.5 C808.3 189.4 818.3 185.8 825.0 183.8 C831.7 181.7 831.7 181.7 840.0 180.0 C848.3 178.3 865.0 175.5 875.0 173.8 C885.0 172.0 895.0 170.5 900.0 169.5 C905.0 168.5 900.0 168.8 905.0 168.0 C910.0 167.2 921.7 165.7 930.0 165.0 C938.3 164.3 947.5 164.1 955.0 163.8 C962.5 163.4 967.5 163.6 975.0 163.0 C982.5 162.4 990.8 160.7 1000.0 160.0 C1009.2 159.3 1020.8 158.8 1030.0 158.8 C1039.2 158.7 1046.7 159.1 1055.0 159.5 C1063.3 159.9 1072.9 160.7 1080.0 161.2 C1087.1 161.8 1088.3 162.4 1097.5 163.0 C1106.7 163.6 1122.5 164.4 1135.0 165.0 C1147.5 165.6 1160.0 165.9 1172.5 166.8 C1185.0 167.6 1200.1 169.0 1210.0 170.0 C1219.9 171.0 1224.5 171.9 1232.0 172.8 C1239.5 173.7 1250.3 174.7 1255.0 175.5 C1259.7 176.3 1255.8 176.1 1260.0 177.5 C1264.2 178.9 1272.5 181.0 1280.0 183.8 C1287.5 186.5 1296.7 189.8 1305.0 193.8 C1313.3 197.7 1321.7 203.3 1330.0 207.5 C1338.3 211.7 1348.8 216.0 1355.0 218.8 C1361.2 221.5 1362.9 221.9 1367.5 223.8 C1372.1 225.6 1378.3 228.5 1382.5 230.0 C1386.7 231.5 1387.5 231.1 1392.5 233.0 C1397.5 234.9 1406.2 238.5 1412.5 241.2 C1418.8 244.0 1425.0 247.4 1430.0 249.5 C1435.0 251.6 1434.1 250.0 1442.5 253.8 C1450.9 257.5 1474.2 269.0 1480.5 272.0" fill="none" stroke="#fbb829" stroke-width="1.8" stroke-linejoin="round" stroke-linecap="round"/>
<path d="M0.0 230.5 C0.4 230.4 -0.8 229.7 2.5 230.0 C5.8 230.3 12.1 232.5 20.0 232.5 C27.9 232.5 40.8 230.3 50.0 230.0 C59.2 229.7 66.7 231.5 75.0 230.8 C83.3 230.0 93.3 226.6 100.0 225.5 C106.7 224.4 109.6 224.2 115.0 224.2 C120.4 224.2 126.7 224.3 132.5 225.5 C138.3 226.7 145.4 229.5 150.0 231.2 C154.6 233.0 155.8 233.8 160.0 236.2 C164.2 238.8 170.8 243.1 175.0 246.2 C179.2 249.4 180.8 251.9 185.0 255.0 C189.2 258.1 195.8 262.5 200.0 265.0 C204.2 267.5 204.2 266.9 210.0 270.0 C215.8 273.1 226.7 279.2 235.0 283.8 C243.3 288.3 251.7 292.9 260.0 297.5 C268.3 302.1 278.3 307.7 285.0 311.2 C291.7 314.8 295.0 316.8 300.0 318.8 C305.0 320.7 310.0 322.0 315.0 323.0 C320.0 324.0 325.0 324.8 330.0 325.0 C335.0 325.2 341.2 324.7 345.0 324.2 C348.8 323.8 350.0 323.8 352.5 322.5 C355.0 321.2 355.2 320.0 360.0 316.2 C364.8 312.5 375.8 303.6 381.2 300.0 C386.7 296.4 387.3 296.5 392.5 294.5 C397.7 292.5 406.7 291.0 412.5 288.0 C418.3 285.0 421.7 280.5 427.5 276.2 C433.3 272.0 442.5 266.4 447.5 262.5 C452.5 258.6 453.8 256.1 457.5 253.0 C461.2 249.9 464.6 248.0 470.0 243.8 C475.4 239.5 484.2 232.7 490.0 227.5 C495.8 222.3 500.0 216.5 505.0 212.5 C510.0 208.5 515.0 206.5 520.0 203.8 C525.0 201.0 530.4 197.8 535.0 196.2 C539.6 194.7 541.7 194.2 547.5 194.5 C553.3 194.8 562.1 197.6 570.0 198.0 C577.9 198.4 586.7 196.9 595.0 197.0 C603.3 197.1 612.5 197.8 620.0 198.8 C627.5 199.8 634.2 202.0 640.0 203.0 C645.8 204.0 650.0 204.6 655.0 205.0 C660.0 205.4 665.0 204.9 670.0 205.5 C675.0 206.1 680.0 208.6 685.0 208.8 C690.0 208.9 695.4 207.4 700.0 206.2 C704.6 205.1 708.3 203.2 712.5 202.0 C716.7 200.8 720.8 200.8 725.0 198.8 C729.2 196.8 733.3 192.7 737.5 190.0 C741.7 187.3 745.4 185.0 750.0 182.5 C754.6 180.0 760.8 176.8 765.0 175.0 C769.2 173.2 769.2 174.0 775.0 171.8 C780.8 169.5 791.7 164.5 800.0 161.2 C808.3 158.0 818.3 155.4 825.0 152.5 C831.7 149.6 835.0 145.8 840.0 143.8 C845.0 141.7 849.2 141.2 855.0 140.0 C860.8 138.8 870.8 137.2 875.0 136.2 C879.2 135.3 875.8 135.2 880.0 134.5 C884.2 133.8 895.8 132.5 900.0 132.0 C904.2 131.5 900.8 131.6 905.0 131.2 C909.2 130.9 918.8 129.8 925.0 130.0 C931.2 130.2 936.2 131.9 942.5 132.5 C948.8 133.1 956.2 134.0 962.5 133.8 C968.8 133.5 973.3 132.0 980.0 131.2 C986.7 130.5 996.7 129.1 1002.5 129.5 C1008.3 129.9 1010.4 131.6 1015.0 133.8 C1019.6 135.9 1023.3 138.8 1030.0 142.5 C1036.7 146.2 1050.0 153.5 1055.0 156.2 C1060.0 159.0 1055.0 155.5 1060.0 158.8 C1065.0 162.0 1075.4 169.1 1085.0 176.0 C1094.6 182.9 1109.2 195.0 1117.5 200.0 C1125.8 205.0 1127.9 204.0 1135.0 206.2 C1142.1 208.5 1152.9 211.5 1160.0 213.8 C1167.1 216.0 1172.1 218.3 1177.5 220.0 C1182.9 221.7 1187.1 223.5 1192.5 223.8 C1197.9 224.0 1203.8 222.6 1210.0 221.8 C1216.2 220.9 1223.3 220.3 1230.0 218.8 C1236.7 217.2 1244.6 213.3 1250.0 212.5 C1255.4 211.7 1257.5 213.0 1262.5 213.8 C1267.5 214.5 1274.0 216.1 1280.0 216.8 C1286.0 217.4 1293.8 216.5 1298.8 217.5 C1303.8 218.5 1304.8 218.8 1310.0 222.5 C1315.2 226.2 1323.8 234.4 1330.0 240.0 C1336.2 245.6 1341.7 250.7 1347.5 256.2 C1353.3 261.8 1359.6 269.3 1365.0 273.5 C1370.4 277.7 1374.2 277.5 1380.0 281.2 C1385.8 285.0 1392.9 290.8 1400.0 296.2 C1407.1 301.7 1415.4 307.9 1422.5 313.8 C1429.6 319.6 1435.8 327.7 1442.5 331.2 C1449.2 334.8 1456.2 333.1 1462.5 335.0 C1468.8 336.9 1477.5 341.2 1480.5 342.5" fill="none" stroke="#f23645" stroke-width="1.8" stroke-linejoin="round" stroke-linecap="round"/>
<g shape-rendering="crispEdges"><path d="M7 220h7v31h-7zM10 214h1v43h-1zM16 209h7v12h-7zM19 203h1v20h-1zM26 191h7v19h-7zM29 191h1v20h-1zM45 190h7v14h-7zM48 171h1v36h-1zM83 229h7v9h-7zM86 229h1v13h-1zM93 226h7v4h-7zM96 225h1v9h-1zM179 356h7v15h-7zM182 345h1v36h-1zM198 352h7v6h-7zM201 351h1v10h-1zM207 291h7v63h-7zM210 288h1v66h-1zM217 291h7v1h-7zM220 277h1v20h-1zM255 309h7v24h-7zM258 306h1v36h-1zM274 335h7v17h-7zM277 335h1v41h-1zM293 300h7v40h-7zM296 291h1v54h-1zM322 310h7v28h-7zM325 309h1v29h-1zM341 292h7v21h-7zM344 286h1v31h-1zM350 274h7v18h-7zM353 265h1v30h-1zM360 208h7v67h-7zM363 197h1v79h-1zM379 208h7v5h-7zM382 202h1v13h-1zM408 218h7v16h-7zM411 211h1v29h-1zM417 203h7v16h-7zM420 202h1v23h-1zM427 195h7v9h-7zM430 195h1v14h-1zM436 190h7v6h-7zM439 189h1v11h-1zM446 172h7v19h-7zM449 171h1v21h-1zM455 163h7v10h-7zM458 136h1v44h-1zM474 177h7v12h-7zM477 171h1v42h-1zM484 146h7v32h-7zM487 146h1v48h-1zM494 141h7v6h-7zM497 140h1v10h-1zM532 174h7v30h-7zM535 163h1v43h-1zM551 235h7v22h-7zM554 230h1v37h-1zM560 226h7v10h-7zM563 215h1v22h-1zM579 222h7v18h-7zM582 213h1v32h-1zM608 217h7v7h-7zM611 186h1v48h-1zM618 211h7v7h-7zM621 208h1v11h-1zM637 204h7v26h-7zM640 184h1v48h-1zM656 177h7v30h-7zM659 173h1v51h-1zM675 185h7v1h-7zM678 178h1v13h-1zM684 176h7v9h-7zM687 176h1v16h-1zM694 156h7v21h-7zM697 155h1v29h-1zM704 154h7v3h-7zM707 145h1v27h-1zM713 129h7v26h-7zM716 116h1v56h-1zM723 129h7v1h-7zM726 124h1v30h-1zM732 126h7v4h-7zM735 123h1v14h-1zM751 122h7v14h-7zM754 121h1v24h-1zM761 116h7v7h-7zM764 112h1v24h-1zM789 146h7v6h-7zM799 138h7v6h-7zM802 134h1v16h-1zM818 124h7v39h-7zM821 123h1v46h-1zM828 121h7v3h-7zM831 103h1v27h-1zM837 91h7v31h-7zM840 87h1v48h-1zM885 127h7v19h-7zM888 121h1v28h-1zM904 113h7v36h-7zM907 109h1v41h-1zM914 107h7v7h-7zM917 107h1v11h-1zM942 150h7v4h-7zM945 130h1v42h-1zM952 142h7v9h-7zM955 105h1v48h-1zM961 141h7v2h-7zM964 120h1v33h-1zM971 121h7v21h-7zM974 121h1v23h-1zM980 121h7v1h-7zM983 115h1v11h-1zM1028 208h7v7h-7zM1031 207h1v11h-1zM1057 240h7v19h-7zM1060 230h1v34h-1zM1076 267h7v4h-7zM1079 249h1v23h-1zM1085 265h7v3h-7zM1088 264h1v7h-1zM1095 258h7v8h-7zM1098 257h1v17h-1zM1104 252h7v7h-7zM1107 245h1v14h-1zM1114 252h7v1h-7zM1117 243h1v10h-1zM1124 236h7v17h-7zM1127 213h1v42h-1zM1133 195h7v42h-7zM1136 193h1v56h-1zM1152 195h7v7h-7zM1155 193h1v13h-1zM1171 187h7v16h-7zM1174 179h1v40h-1zM1181 186h7v1h-7zM1184 179h1v35h-1zM1190 175h7v12h-7zM1193 169h1v32h-1zM1200 175h7v1h-7zM1203 157h1v26h-1zM1238 178h7v17h-7zM1241 163h1v42h-1zM1276 296h7v21h-7zM1279 287h1v30h-1zM1286 271h7v26h-7zM1289 269h1v33h-1zM1295 253h7v19h-7zM1298 218h1v60h-1zM1343 379h7v23h-7zM1346 371h1v34h-1zM1353 376h7v4h-7zM1356 362h1v29h-1zM1362 343h7v34h-7zM1365 323h1v57h-1zM1372 285h7v59h-7zM1375 270h1v75h-1zM1391 313h7v2h-7zM1394 309h1v13h-1zM1400 305h7v9h-7zM1403 295h1v19h-1zM1439 348h7v18h-7zM1442 346h1v27h-1zM1467 351h7v2h-7zM1470 343h1v10h-1zM1477 347h7v4h-7zM1480 346h1v5h-1z" fill="#2e8b57"/><path d="M-3 212h7v39h-7zM35 191h7v13h-7zM38 190h1v15h-1zM54 190h7v33h-7zM57 189h1v47h-1zM64 222h7v11h-7zM67 210h1v36h-1zM74 232h7v6h-7zM77 223h1v31h-1zM102 226h7v11h-7zM105 225h1v22h-1zM112 236h7v11h-7zM115 233h1v28h-1zM121 246h7v21h-7zM124 228h1v39h-1zM131 267h7v16h-7zM134 262h1v45h-1zM140 282h7v18h-7zM143 278h1v22h-1zM150 299h7v1h-7zM153 290h1v13h-1zM159 300h7v12h-7zM162 296h1v36h-1zM169 311h7v60h-7zM172 303h1v92h-1zM188 356h7v2h-7zM191 348h1v27h-1zM226 291h7v22h-7zM229 279h1v34h-1zM236 312h7v8h-7zM239 301h1v34h-1zM245 319h7v14h-7zM248 271h1v65h-1zM264 309h7v43h-7zM267 305h1v48h-1zM284 335h7v5h-7zM287 321h1v19h-1zM303 300h7v21h-7zM306 268h1v60h-1zM312 320h7v18h-7zM315 317h1v41h-1zM331 310h7v3h-7zM334 303h1v11h-1zM369 208h7v5h-7zM372 191h1v29h-1zM389 208h7v15h-7zM392 207h1v17h-1zM398 222h7v12h-7zM401 216h1v23h-1zM465 163h7v26h-7zM468 160h1v43h-1zM503 149h7v36h-7zM506 149h1v41h-1zM513 184h7v13h-7zM516 179h1v26h-1zM522 196h7v8h-7zM525 177h1v28h-1zM541 174h7v83h-7zM544 172h1v95h-1zM570 227h7v12h-7zM573 225h1v21h-1zM589 222h7v1h-7zM592 188h1v37h-1zM599 222h7v1h-7zM602 212h1v36h-1zM627 211h7v19h-7zM630 207h1v26h-1zM646 204h7v2h-7zM649 190h1v64h-1zM665 177h7v9h-7zM668 164h1v34h-1zM742 126h7v10h-7zM745 126h1v20h-1zM770 116h7v27h-7zM773 76h1v82h-1zM780 142h7v10h-7zM783 130h1v34h-1zM809 138h7v25h-7zM812 137h1v26h-1zM847 91h7v43h-7zM850 88h1v49h-1zM856 133h7v5h-7zM859 130h1v13h-1zM866 137h7v3h-7zM869 132h1v18h-1zM875 139h7v7h-7zM878 123h1v23h-1zM894 127h7v22h-7zM897 123h1v39h-1zM923 107h7v7h-7zM926 105h1v10h-1zM933 113h7v40h-7zM936 112h1v43h-1zM990 121h7v4h-7zM993 99h1v26h-1zM999 124h7v23h-7zM1002 118h1v32h-1zM1009 146h7v51h-7zM1012 142h1v72h-1zM1019 196h7v19h-7zM1022 166h1v49h-1zM1038 208h7v17h-7zM1041 206h1v19h-1zM1047 224h7v35h-7zM1050 220h1v45h-1zM1066 240h7v31h-7zM1069 216h1v60h-1zM1143 195h7v7h-7zM1146 186h1v21h-1zM1162 195h7v8h-7zM1165 187h1v16h-1zM1209 175h7v1h-7zM1212 167h1v15h-1zM1219 175h7v14h-7zM1222 172h1v17h-1zM1229 189h7v6h-7zM1232 158h1v42h-1zM1248 179h7v15h-7zM1251 165h1v35h-1zM1257 193h7v97h-7zM1260 167h1v125h-1zM1267 289h7v28h-7zM1270 283h1v38h-1zM1305 253h7v81h-7zM1308 253h1v85h-1zM1314 333h7v46h-7zM1317 320h1v59h-1zM1324 378h7v9h-7zM1327 371h1v16h-1zM1334 386h7v17h-7zM1337 380h1v27h-1zM1381 285h7v26h-7zM1384 280h1v31h-1zM1410 306h7v20h-7zM1413 299h1v29h-1zM1419 325h7v26h-7zM1422 300h1v54h-1zM1429 350h7v16h-7zM1432 345h1v25h-1zM1448 348h7v3h-7zM1451 344h1v10h-1zM1458 350h7v3h-7zM1461 341h1v17h-1z" fill="#e60000"/></g>
<path d="M1 347h1v1h-1zM4 347h1v1h-1zM7 347h1v1h-1zM10 347h1v1h-1zM13 347h1v1h-1zM16 347h1v1h-1zM19 347h1v1h-1zM22 347h1v1h-1zM25 347h1v1h-1zM28 347h1v1h-1zM31 347h1v1h-1zM34 347h1v1h-1zM37 347h1v1h-1zM40 347h1v1h-1zM43 347h1v1h-1zM46 347h1v1h-1zM49 347h1v1h-1zM52 347h1v1h-1zM55 347h1v1h-1zM58 347h1v1h-1zM61 347h1v1h-1zM64 347h1v1h-1zM67 347h1v1h-1zM70 347h1v1h-1zM73 347h1v1h-1zM76 347h1v1h-1zM79 347h1v1h-1zM82 347h1v1h-1zM85 347h1v1h-1zM88 347h1v1h-1zM91 347h1v1h-1zM94 347h1v1h-1zM97 347h1v1h-1zM100 347h1v1h-1zM103 347h1v1h-1zM106 347h1v1h-1zM109 347h1v1h-1zM112 347h1v1h-1zM115 347h1v1h-1zM118 347h1v1h-1zM121 347h1v1h-1zM124 347h1v1h-1zM127 347h1v1h-1zM130 347h1v1h-1zM133 347h1v1h-1zM136 347h1v1h-1zM139 347h1v1h-1zM142 347h1v1h-1zM145 347h1v1h-1zM148 347h1v1h-1zM151 347h1v1h-1zM154 347h1v1h-1zM157 347h1v1h-1zM160 347h1v1h-1zM163 347h1v1h-1zM166 347h1v1h-1zM169 347h1v1h-1zM172 347h1v1h-1zM175 347h1v1h-1zM178 347h1v1h-1zM181 347h1v1h-1zM184 347h1v1h-1zM187 347h1v1h-1zM190 347h1v1h-1zM193 347h1v1h-1zM196 347h1v1h-1zM199 347h1v1h-1zM202 347h1v1h-1zM205 347h1v1h-1zM208 347h1v1h-1zM211 347h1v1h-1zM214 347h1v1h-1zM217 347h1v1h-1zM220 347h1v1h-1zM223 347h1v1h-1zM226 347h1v1h-1zM229 347h1v1h-1zM232 347h1v1h-1zM235 347h1v1h-1zM238 347h1v1h-1zM241 347h1v1h-1zM244 347h1v1h-1zM247 347h1v1h-1zM250 347h1v1h-1zM253 347h1v1h-1zM256 347h1v1h-1zM259 347h1v1h-1zM262 347h1v1h-1zM265 347h1v1h-1zM268 347h1v1h-1zM271 347h1v1h-1zM274 347h1v1h-1zM277 347h1v1h-1zM280 347h1v1h-1zM283 347h1v1h-1zM286 347h1v1h-1zM289 347h1v1h-1zM292 347h1v1h-1zM295 347h1v1h-1zM298 347h1v1h-1zM301 347h1v1h-1zM304 347h1v1h-1zM307 347h1v1h-1zM310 347h1v1h-1zM313 347h1v1h-1zM316 347h1v1h-1zM319 347h1v1h-1zM322 347h1v1h-1zM325 347h1v1h-1zM328 347h1v1h-1zM331 347h1v1h-1zM334 347h1v1h-1zM337 347h1v1h-1zM340 347h1v1h-1zM343 347h1v1h-1zM346 347h1v1h-1zM349 347h1v1h-1zM352 347h1v1h-1zM355 347h1v1h-1zM358 347h1v1h-1zM361 347h1v1h-1zM364 347h1v1h-1zM367 347h1v1h-1zM370 347h1v1h-1zM373 347h1v1h-1zM376 347h1v1h-1zM379 347h1v1h-1zM382 347h1v1h-1zM385 347h1v1h-1zM388 347h1v1h-1zM391 347h1v1h-1zM394 347h1v1h-1zM397 347h1v1h-1zM400 347h1v1h-1zM403 347h1v1h-1zM406 347h1v1h-1zM409 347h1v1h-1zM412 347h1v1h-1zM415 347h1v1h-1zM418 347h1v1h-1zM421 347h1v1h-1zM424 347h1v1h-1zM427 347h1v1h-1zM430 347h1v1h-1zM433 347h1v1h-1zM436 347h1v1h-1zM439 347h1v1h-1zM442 347h1v1h-1zM445 347h1v1h-1zM448 347h1v1h-1zM451 347h1v1h-1zM454 347h1v1h-1zM457 347h1v1h-1zM460 347h1v1h-1zM463 347h1v1h-1zM466 347h1v1h-1zM469 347h1v1h-1zM472 347h1v1h-1zM475 347h1v1h-1zM478 347h1v1h-1zM481 347h1v1h-1zM484 347h1v1h-1zM487 347h1v1h-1zM490 347h1v1h-1zM493 347h1v1h-1zM496 347h1v1h-1zM499 347h1v1h-1zM502 347h1v1h-1zM505 347h1v1h-1zM508 347h1v1h-1zM511 347h1v1h-1zM514 347h1v1h-1zM517 347h1v1h-1zM520 347h1v1h-1zM523 347h1v1h-1zM526 347h1v1h-1zM529 347h1v1h-1zM532 347h1v1h-1zM535 347h1v1h-1zM538 347h1v1h-1zM541 347h1v1h-1zM544 347h1v1h-1zM547 347h1v1h-1zM550 347h1v1h-1zM553 347h1v1h-1zM556 347h1v1h-1zM559 347h1v1h-1zM562 347h1v1h-1zM565 347h1v1h-1zM568 347h1v1h-1zM571 347h1v1h-1zM574 347h1v1h-1zM577 347h1v1h-1zM580 347h1v1h-1zM583 347h1v1h-1zM586 347h1v1h-1zM589 347h1v1h-1zM592 347h1v1h-1zM595 347h1v1h-1zM598 347h1v1h-1zM601 347h1v1h-1zM604 347h1v1h-1zM607 347h1v1h-1zM610 347h1v1h-1zM613 347h1v1h-1zM616 347h1v1h-1zM619 347h1v1h-1zM622 347h1v1h-1zM625 347h1v1h-1zM628 347h1v1h-1zM631 347h1v1h-1zM634 347h1v1h-1zM637 347h1v1h-1zM640 347h1v1h-1zM643 347h1v1h-1zM646 347h1v1h-1zM649 347h1v1h-1zM652 347h1v1h-1zM655 347h1v1h-1zM658 347h1v1h-1zM661 347h1v1h-1zM664 347h1v1h-1zM667 347h1v1h-1zM670 347h1v1h-1zM673 347h1v1h-1zM676 347h1v1h-1zM679 347h1v1h-1zM682 347h1v1h-1zM685 347h1v1h-1zM688 347h1v1h-1zM691 347h1v1h-1zM694 347h1v1h-1zM697 347h1v1h-1zM700 347h1v1h-1zM703 347h1v1h-1zM706 347h1v1h-1zM709 347h1v1h-1zM712 347h1v1h-1zM715 347h1v1h-1zM718 347h1v1h-1zM721 347h1v1h-1zM724 347h1v1h-1zM727 347h1v1h-1zM730 347h1v1h-1zM733 347h1v1h-1zM736 347h1v1h-1zM739 347h1v1h-1zM742 347h1v1h-1zM745 347h1v1h-1zM748 347h1v1h-1zM751 347h1v1h-1zM754 347h1v1h-1zM757 347h1v1h-1zM760 347h1v1h-1zM763 347h1v1h-1zM766 347h1v1h-1zM769 347h1v1h-1zM772 347h1v1h-1zM775 347h1v1h-1zM778 347h1v1h-1zM781 347h1v1h-1zM784 347h1v1h-1zM787 347h1v1h-1zM790 347h1v1h-1zM793 347h1v1h-1zM796 347h1v1h-1zM799 347h1v1h-1zM802 347h1v1h-1zM805 347h1v1h-1zM808 347h1v1h-1zM811 347h1v1h-1zM814 347h1v1h-1zM817 347h1v1h-1zM820 347h1v1h-1zM823 347h1v1h-1zM826 347h1v1h-1zM829 347h1v1h-1zM832 347h1v1h-1zM835 347h1v1h-1zM838 347h1v1h-1zM841 347h1v1h-1zM844 347h1v1h-1zM847 347h1v1h-1zM850 347h1v1h-1zM853 347h1v1h-1zM856 347h1v1h-1zM859 347h1v1h-1zM862 347h1v1h-1zM865 347h1v1h-1zM868 347h1v1h-1zM871 347h1v1h-1zM874 347h1v1h-1zM877 347h1v1h-1zM880 347h1v1h-1zM883 347h1v1h-1zM886 347h1v1h-1zM889 347h1v1h-1zM892 347h1v1h-1zM895 347h1v1h-1zM898 347h1v1h-1zM901 347h1v1h-1zM904 347h1v1h-1zM907 347h1v1h-1zM910 347h1v1h-1zM913 347h1v1h-1zM916 347h1v1h-1zM919 347h1v1h-1zM922 347h1v1h-1zM925 347h1v1h-1zM928 347h1v1h-1zM931 347h1v1h-1zM934 347h1v1h-1zM937 347h1v1h-1zM940 347h1v1h-1zM943 347h1v1h-1zM946 347h1v1h-1zM949 347h1v1h-1zM952 347h1v1h-1zM955 347h1v1h-1zM958 347h1v1h-1zM961 347h1v1h-1zM964 347h1v1h-1zM967 347h1v1h-1zM970 347h1v1h-1zM973 347h1v1h-1zM976 347h1v1h-1zM979 347h1v1h-1zM982 347h1v1h-1zM985 347h1v1h-1zM988 347h1v1h-1zM991 347h1v1h-1zM994 347h1v1h-1zM997 347h1v1h-1zM1000 347h1v1h-1zM1003 347h1v1h-1zM1006 347h1v1h-1zM1009 347h1v1h-1zM1012 347h1v1h-1zM1015 347h1v1h-1zM1018 347h1v1h-1zM1021 347h1v1h-1zM1024 347h1v1h-1zM1027 347h1v1h-1zM1030 347h1v1h-1zM1033 347h1v1h-1zM1036 347h1v1h-1zM1039 347h1v1h-1zM1042 347h1v1h-1zM1045 347h1v1h-1zM1048 347h1v1h-1zM1051 347h1v1h-1zM1054 347h1v1h-1zM1057 347h1v1h-1zM1060 347h1v1h-1zM1063 347h1v1h-1zM1066 347h1v1h-1zM1069 347h1v1h-1zM1072 347h1v1h-1zM1075 347h1v1h-1zM1078 347h1v1h-1zM1081 347h1v1h-1zM1084 347h1v1h-1zM1087 347h1v1h-1zM1090 347h1v1h-1zM1093 347h1v1h-1zM1096 347h1v1h-1zM1099 347h1v1h-1zM1102 347h1v1h-1zM1105 347h1v1h-1zM1108 347h1v1h-1zM1111 347h1v1h-1zM1114 347h1v1h-1zM1117 347h1v1h-1zM1120 347h1v1h-1zM1123 347h1v1h-1zM1126 347h1v1h-1zM1129 347h1v1h-1zM1132 347h1v1h-1zM1135 347h1v1h-1zM1138 347h1v1h-1zM1141 347h1v1h-1zM1144 347h1v1h-1zM1147 347h1v1h-1zM1150 347h1v1h-1zM1153 347h1v1h-1zM1156 347h1v1h-1zM1159 347h1v1h-1zM1162 347h1v1h-1zM1165 347h1v1h-1zM1168 347h1v1h-1zM1171 347h1v1h-1zM1174 347h1v1h-1zM1177 347h1v1h-1zM1180 347h1v1h-1zM1183 347h1v1h-1zM1186 347h1v1h-1zM1189 347h1v1h-1zM1192 347h1v1h-1zM1195 347h1v1h-1zM1198 347h1v1h-1zM1201 347h1v1h-1zM1204 347h1v1h-1zM1207 347h1v1h-1zM1210 347h1v1h-1zM1213 347h1v1h-1zM1216 347h1v1h-1zM1219 347h1v1h-1zM1222 347h1v1h-1zM1225 347h1v1h-1zM1228 347h1v1h-1zM1231 347h1v1h-1zM1234 347h1v1h-1zM1237 347h1v1h-1zM1240 347h1v1h-1zM1243 347h1v1h-1zM1246 347h1v1h-1zM1249 347h1v1h-1zM1252 347h1v1h-1zM1255 347h1v1h-1zM1258 347h1v1h-1zM1261 347h1v1h-1zM1264 347h1v1h-1zM1267 347h1v1h-1zM1270 347h1v1h-1zM1273 347h1v1h-1zM1276 347h1v1h-1zM1279 347h1v1h-1zM1282 347h1v1h-1zM1285 347h1v1h-1zM1288 347h1v1h-1zM1291 347h1v1h-1zM1294 347h1v1h-1zM1297 347h1v1h-1zM1300 347h1v1h-1zM1303 347h1v1h-1zM1306 347h1v1h-1zM1309 347h1v1h-1zM1312 347h1v1h-1zM1315 347h1v1h-1zM1318 347h1v1h-1zM1321 347h1v1h-1zM1324 347h1v1h-1zM1327 347h1v1h-1zM1330 347h1v1h-1zM1333 347h1v1h-1zM1336 347h1v1h-1zM1339 347h1v1h-1zM1342 347h1v1h-1zM1345 347h1v1h-1zM1348 347h1v1h-1zM1351 347h1v1h-1zM1354 347h1v1h-1zM1357 347h1v1h-1zM1360 347h1v1h-1zM1363 347h1v1h-1zM1366 347h1v1h-1zM1369 347h1v1h-1zM1372 347h1v1h-1zM1375 347h1v1h-1zM1378 347h1v1h-1zM1381 347h1v1h-1zM1384 347h1v1h-1zM1387 347h1v1h-1zM1390 347h1v1h-1zM1393 347h1v1h-1zM1396 347h1v1h-1zM1399 347h1v1h-1zM1402 347h1v1h-1zM1405 347h1v1h-1zM1408 347h1v1h-1zM1411 347h1v1h-1zM1414 347h1v1h-1zM1417 347h1v1h-1zM1420 347h1v1h-1zM1423 347h1v1h-1zM1426 347h1v1h-1zM1429 347h1v1h-1zM1432 347h1v1h-1zM1435 347h1v1h-1zM1438 347h1v1h-1zM1441 347h1v1h-1zM1444 347h1v1h-1zM1447 347h1v1h-1zM1450 347h1v1h-1zM1453 347h1v1h-1zM1456 347h1v1h-1zM1459 347h1v1h-1zM1462 347h1v1h-1zM1465 347h1v1h-1zM1468 347h1v1h-1zM1471 347h1v1h-1zM1474 347h1v1h-1zM1477 347h1v1h-1zM1480 347h1v1h-1zM1483 347h1v1h-1zM1486 347h1v1h-1zM1489 347h1v1h-1zM1492 347h1v1h-1zM1495 347h1v1h-1zM1498 347h1v1h-1zM1501 347h1v1h-1zM1504 347h1v1h-1zM1507 347h1v1h-1zM1510 347h1v1h-1zM1513 347h1v1h-1zM1516 347h1v1h-1zM1519 347h1v1h-1zM1522 347h1v1h-1zM1525 347h1v1h-1zM1528 347h1v1h-1zM1531 347h1v1h-1zM1534 347h1v1h-1zM1537 347h1v1h-1zM1540 347h1v1h-1zM1543 347h1v1h-1zM1546 347h1v1h-1zM1549 347h1v1h-1zM1552 347h1v1h-1zM1555 347h1v1h-1zM1558 347h1v1h-1zM1561 347h1v1h-1zM1564 347h1v1h-1zM1567 347h1v1h-1zM1570 347h1v1h-1zM1573 347h1v1h-1zM1576 347h1v1h-1zM1579 347h1v1h-1z" fill="#2e8b57" shape-rendering="crispEdges"/>
<g stroke="#787b86" stroke-width="1" stroke-dasharray="5 6" shape-rendering="crispEdges">
<line x1="1" y1="577.5" x2="1580" y2="577.5"/>
<line x1="1" y1="635.5" x2="1580" y2="635.5"/>
<line x1="1" y1="693.5" x2="1580" y2="693.5"/>
</g>
<path d="M0.5 670.1 L10.5 651.4 L19.5 642.9 L29.5 632.8 L38.5 640.4 L48.5 631.9 L57.5 650.3 L67.5 655.1 L77.5 658.6 L86.5 652.6 L96.5 650.1 L105.5 656.3 L115.5 662.5 L124.5 674.0 L134.5 682.1 L143.5 689.7 L153.5 690.1 L162.5 695.9 L172.5 716.2 L182.5 702.8 L191.5 703.5 L201.5 698.2 L210.5 648.2 L220.5 648.2 L229.5 659.7 L239.5 663.6 L248.5 670.1 L258.5 652.6 L267.5 672.9 L277.5 661.3 L287.5 663.6 L296.5 638.3 L306.5 648.7 L315.5 657.2 L325.5 640.6 L334.5 641.5 L344.5 629.1 L353.5 619.9 L363.5 592.2 L372.5 594.5 L382.5 593.2 L392.5 602.6 L401.5 610.2 L411.5 603.1 L420.5 596.4 L430.5 592.9 L439.5 590.4 L449.5 583.0 L458.5 579.1 L468.5 600.5 L477.5 595.0 L487.5 582.1 L497.5 579.8 L506.5 613.4 L516.5 621.7 L525.5 625.9 L535.5 610.7 L544.5 654.7 L554.5 643.6 L563.5 639.5 L573.5 645.2 L582.5 636.0 L592.5 636.2 L602.5 636.9 L611.5 632.8 L621.5 629.1 L630.5 641.1 L640.5 625.2 L649.5 626.3 L659.5 609.5 L668.5 615.3 L678.5 615.3 L687.5 610.1 L697.5 598.6 L707.5 597.1 L716.5 584.4 L726.5 584.2 L735.5 582.6 L745.5 592.9 L754.5 585.3 L764.5 581.9 L773.5 610.0 L783.5 618.0 L792.5 614.6 L802.5 608.6 L812.5 631.4 L821.5 605.4 L831.5 603.8 L840.5 587.6 L850.5 621.3 L859.5 624.5 L869.5 625.6 L878.5 630.2 L888.5 618.3 L897.5 633.7 L907.5 612.3 L917.5 609.1 L926.5 614.1 L936.5 641.8 L945.5 640.1 L955.5 634.9 L964.5 633.7 L974.5 619.6 L983.5 619.4 L993.5 622.2 L1002.5 641.1 L1012.5 671.7 L1022.5 680.5 L1031.5 675.2 L1041.5 682.3 L1050.5 696.6 L1060.5 681.1 L1069.5 693.1 L1079.5 690.8 L1088.5 689.0 L1098.5 682.1 L1107.5 676.8 L1117.5 676.3 L1127.5 660.9 L1136.5 628.4 L1146.5 633.2 L1155.5 628.6 L1165.5 634.4 L1174.5 622.6 L1184.5 622.4 L1193.5 614.6 L1203.5 614.4 L1212.5 614.6 L1222.5 628.2 L1232.5 633.7 L1241.5 619.4 L1251.5 634.2 L1260.5 692.4 L1270.5 701.2 L1279.5 682.6 L1289.5 665.5 L1298.5 654.0 L1308.5 685.1 L1317.5 697.7 L1327.5 699.3 L1337.5 703.5 L1346.5 688.5 L1356.5 686.4 L1365.5 665.2 L1375.5 636.5 L1384.5 646.4 L1394.5 648.0 L1403.5 644.1 L1413.5 652.6 L1422.5 662.9 L1432.5 668.7 L1442.5 658.3 L1451.5 659.5 L1461.5 660.4 L1470.5 659.5 L1480.5 657.2" fill="none" stroke="#7e57c2" stroke-width="1.1" stroke-linejoin="round" stroke-linecap="round"/>
<g fill="#ffffff" fill-opacity="0.55">
<rect x="5" y="4" width="538" height="25"/>
<rect x="5" y="29" width="148.5" height="98"/>
<rect x="5" y="567.5" width="86" height="20" rx="2"/>
</g>
<text x="10.4" y="22.6" font-size="14.3" fill="#2e323e" textLength="129.8" lengthAdjust="spacingAndGlyphs">GBP/USD Spot · 4h</text>
<circle cx="164.9" cy="16.8" r="8.8" fill="#089981" fill-opacity="0.16"/><circle cx="164.9" cy="16.8" r="4.3" fill="#089981"/>
<text x="189.6" y="22" font-size="12.6" fill="#434651" textLength="7.7" lengthAdjust="spacingAndGlyphs">O</text>
<text x="200.6" y="22" font-size="12.6" fill="#2e8b57" textLength="43.9" lengthAdjust="spacingAndGlyphs">1.25327</text>
<text x="251.5" y="22" font-size="12.6" fill="#434651" textLength="7.6" lengthAdjust="spacingAndGlyphs">H</text>
<text x="261.2" y="22" font-size="12.6" fill="#2e8b57" textLength="43.7" lengthAdjust="spacingAndGlyphs">1.25371</text>
<text x="313.2" y="22" font-size="12.6" fill="#434651" textLength="5.6" lengthAdjust="spacingAndGlyphs">L</text>
<text x="320.4" y="22" font-size="12.6" fill="#2e8b57" textLength="44.8" lengthAdjust="spacingAndGlyphs">1.25325</text>
<text x="371.6" y="22" font-size="12.6" fill="#434651" textLength="7.7" lengthAdjust="spacingAndGlyphs">C</text>
<text x="381.1" y="22" font-size="12.6" fill="#2e8b57" textLength="44.3" lengthAdjust="spacingAndGlyphs">1.25358</text>
<text x="432.6" y="22" font-size="12.6" fill="#2e8b57" textLength="50.4" lengthAdjust="spacingAndGlyphs">+0.00033</text>
<text x="489.4" y="22" font-size="12.6" fill="#2e8b57" textLength="48.1" lengthAdjust="spacingAndGlyphs">(+0.03%)</text>
<text x="9.75" y="45.8" font-size="12" fill="#2a2e39" textLength="79" lengthAdjust="spacingAndGlyphs">MA 20 close 0</text>
<text x="97.5" y="45.8" font-size="12" fill="#f23645" textLength="44.4" lengthAdjust="spacingAndGlyphs">1.25407</text>
<text x="9.75" y="70.0" font-size="12" fill="#2a2e39" textLength="79" lengthAdjust="spacingAndGlyphs">MA 50 close 0</text>
<text x="97.8" y="70.0" font-size="12" fill="#fbb829" textLength="43.6" lengthAdjust="spacingAndGlyphs">1.26121</text>
<text x="9.75" y="94.3" font-size="12" fill="#2a2e39" textLength="85.3" lengthAdjust="spacingAndGlyphs">MA 100 close 0</text>
<text x="104.5" y="94.3" font-size="12" fill="#4caf50" textLength="43.2" lengthAdjust="spacingAndGlyphs">1.26691</text>
<text x="9.75" y="117.6" font-size="12" fill="#2a2e39" textLength="85.3" lengthAdjust="spacingAndGlyphs">MA 200 close 0</text>
<text x="104.4" y="117.6" font-size="12" fill="#2962ff" textLength="43.6" lengthAdjust="spacingAndGlyphs">1.26751</text>
<rect x="10.5" y="127.5" width="28" height="20" rx="3" fill="#ffffff" fill-opacity="0.7" stroke="#d1d4dc" stroke-width="1"/>
<path d="M20.5 140 L24.5 136 L28.5 140" fill="none" stroke="#131722" stroke-width="1.4"/>
<text x="10.7" y="580.7" font-size="12" fill="#2a2e39" textLength="33.8" lengthAdjust="spacingAndGlyphs">RSI 14</text>
<text x="53" y="580.7" font-size="12" fill="#7e57c2" textLength="31.4" lengthAdjust="spacingAndGlyphs">42.43</text>
<text x="1588.5" y="140.9" font-size="12" fill="#131722" textLength="41.5" lengthAdjust="spacingAndGlyphs">1.27500</text>
<text x="1588.5" y="190.1" font-size="12" fill="#131722" textLength="41.5" lengthAdjust="spacingAndGlyphs">1.27000</text>
<text x="1588.5" y="239.4" font-size="12" fill="#131722" textLength="41.5" lengthAdjust="spacingAndGlyphs">1.26500</text>
<text x="1588.5" y="387.4" font-size="12" fill="#131722" textLength="41.5" lengthAdjust="spacingAndGlyphs">1.25000</text>
<text x="1588.5" y="436.7" font-size="12" fill="#131722" textLength="41.5" lengthAdjust="spacingAndGlyphs">1.24500</text>
<text x="1588.5" y="535.8" font-size="12" fill="#131722" textLength="41.5" lengthAdjust="spacingAndGlyphs">1.23500</text>
<text x="1588.4" y="610.9" font-size="12" fill="#131722" textLength="28.9" lengthAdjust="spacingAndGlyphs">60.00</text>
<text x="1588.4" y="668.9" font-size="12" fill="#131722" textLength="28.9" lengthAdjust="spacingAndGlyphs">40.00</text>
<text x="1588.4" y="726.9" font-size="12" fill="#131722" textLength="28.9" lengthAdjust="spacingAndGlyphs">20.00</text>
<path d="M1580 28 H1634 a2 2 0 0 1 2 2 V43 a2 2 0 0 1 -2 2 H1580 Z" fill="#2a2e39"/>
<text x="1588" y="40.8" font-size="11.8" fill="#ffffff" textLength="42" lengthAdjust="spacingAndGlyphs" font-weight="bold">1.28521</text>
<path d="M1580 78 H1634 a2 2 0 0 1 2 2 V93 a2 2 0 0 1 -2 2 H1580 Z" fill="#2a2e39"/>
<text x="1588" y="90.8" font-size="11.8" fill="#ffffff" textLength="42" lengthAdjust="spacingAndGlyphs" font-weight="bold">1.28009</text>
<path d="M1580 191 H1634 a2 2 0 0 1 2 2 V206 a2 2 0 0 1 -2 2 H1580 Z" fill="#2962ff"/>
<text x="1588" y="203.8" font-size="11.8" fill="#ffffff" textLength="42" lengthAdjust="spacingAndGlyphs" font-weight="bold">1.26751</text>
<path d="M1580 208 H1634 a2 2 0 0 1 2 2 V223 a2 2 0 0 1 -2 2 H1580 Z" fill="#4caf50"/>
<text x="1588" y="220.8" font-size="11.8" fill="#ffffff" textLength="42" lengthAdjust="spacingAndGlyphs" font-weight="bold">1.26691</text>
<path d="M1580 259 H1634 a2 2 0 0 1 2 2 V274 a2 2 0 0 1 -2 2 H1580 Z" fill="#fbc02d"/>
<text x="1588" y="271.8" font-size="11.8" fill="#131722" textLength="42" lengthAdjust="spacingAndGlyphs" font-weight="normal">1.26121</text>
<path d="M1580 276 H1634 a2 2 0 0 1 2 2 V291 a2 2 0 0 1 -2 2 H1580 Z" fill="#2a2e39"/>
<text x="1588" y="288.8" font-size="11.8" fill="#ffffff" textLength="42" lengthAdjust="spacingAndGlyphs" font-weight="bold">1.26004</text>
<path d="M1580 305 H1634 a2 2 0 0 1 2 2 V320 a2 2 0 0 1 -2 2 H1580 Z" fill="#2a2e39"/>
<text x="1588" y="317.8" font-size="11.8" fill="#ffffff" textLength="42" lengthAdjust="spacingAndGlyphs" font-weight="bold">1.25483</text>
<path d="M1580 322 H1634 a2 2 0 0 1 2 2 V337 a2 2 0 0 1 -2 2 H1580 Z" fill="#f23645"/>
<text x="1588" y="334.8" font-size="11.8" fill="#ffffff" textLength="42" lengthAdjust="spacingAndGlyphs" font-weight="bold">1.25407</text>
<path d="M1580 339 H1634 a2 2 0 0 1 2 2 V354 a2 2 0 0 1 -2 2 H1580 Z" fill="#2e8b57"/>
<text x="1588" y="351.8" font-size="11.8" fill="#ffffff" textLength="42" lengthAdjust="spacingAndGlyphs" font-weight="bold">1.25358</text>
<path d="M1580 393 H1634 a2 2 0 0 1 2 2 V408 a2 2 0 0 1 -2 2 H1580 Z" fill="#2a2e39"/>
<text x="1588" y="405.8" font-size="11.8" fill="#ffffff" textLength="42" lengthAdjust="spacingAndGlyphs" font-weight="bold">1.24814</text>
<path d="M1580 474 H1634 a2 2 0 0 1 2 2 V489 a2 2 0 0 1 -2 2 H1580 Z" fill="#2a2e39"/>
<text x="1588" y="486.8" font-size="11.8" fill="#ffffff" textLength="42" lengthAdjust="spacingAndGlyphs" font-weight="bold">1.23992</text>
<path d="M1580 533 H1634 a2 2 0 0 1 2 2 V548 a2 2 0 0 1 -2 2 H1580 Z" fill="#2a2e39"/>
<text x="1588" y="545.8" font-size="11.8" fill="#ffffff" textLength="42" lengthAdjust="spacingAndGlyphs" font-weight="bold">1.23397</text>
<path d="M1580 649.5 H1620.6 a2 2 0 0 1 2 2 V664.5 a2 2 0 0 1 -2 2 H1580 Z" fill="#7e57c2"/>
<text x="1588" y="662.3" font-size="11.8" fill="#ffffff" textLength="29.4" lengthAdjust="spacingAndGlyphs" font-weight="bold">42.43</text>
<text x="38" y="749" font-size="11.7" fill="#131722" text-anchor="middle">20</text>
<text x="153" y="749" font-size="11.7" fill="#131722" text-anchor="middle">22</text>
<text x="277" y="749" font-size="11.7" fill="#131722" text-anchor="middle">26</text>
<text x="391.5" y="749" font-size="11.7" fill="#131722" text-anchor="middle">28</text>
<text x="630.5" y="749" font-size="11.7" fill="#131722" text-anchor="middle">4</text>
<text x="745" y="749" font-size="11.7" fill="#131722" text-anchor="middle">6</text>
<text x="868.5" y="749" font-size="11.7" fill="#131722" text-anchor="middle">10</text>
<text x="983" y="749" font-size="11.7" fill="#131722" text-anchor="middle">12</text>
<text x="1098" y="749" font-size="11.7" fill="#131722" text-anchor="middle">15</text>
<text x="1221.5" y="749" font-size="11.7" fill="#131722" text-anchor="middle">18</text>
<text x="1336.5" y="749" font-size="11.7" fill="#131722" text-anchor="middle">20</text>
<text x="1460.5" y="749" font-size="11.7" fill="#131722" text-anchor="middle">24</text>
<text x="496.5" y="749" font-size="11.7" fill="#2a2e39" textLength="19.8" lengthAdjust="spacingAndGlyphs" font-weight="bold">Dec</text>
<clipPath id="tc"><rect x="0" y="732" width="1580" height="27"/></clipPath>
<g clip-path="url(#tc)">
<text x="1575.3" y="749" font-size="11.7" fill="#131722" text-anchor="middle">26</text>
</g>
<path d="M1604.2 745.9 L1607.55 739.7 L1614.25 739.7 L1617.6 745.9 L1614.25 752.1 L1607.55 752.1 Z" fill="none" stroke="#131722" stroke-width="1.3" stroke-linejoin="round"/>
<circle cx="1610.9" cy="745.9" r="1.9" fill="none" stroke="#131722" stroke-width="1.3"/>
<circle cx="29.25" cy="701.9" r="16.4" fill="#ffffff" stroke="#e0e3eb" stroke-width="1"/>
<path d="M18.9 697.1H29.9V707.8H23.8V701H18.9Z M35.1 697.1H40.2L36.6 707.8H31.1Z" fill="#131722"/><circle cx="31.3" cy="698.95" r="1.45" fill="#131722"/>
<g fill="#dfe2ec" shape-rendering="crispEdges">
<rect x="0" y="0" width="1640" height="1"/>
<rect x="0" y="0" width="1" height="760"/>
<rect x="0" y="759" width="1640" height="1" fill="#dcdfe9"/>
</g>
<path d="M1 1 H4 A3 3 0 0 0 1 4 Z" fill="#dfe2ec"/>
</svg></body></html>
